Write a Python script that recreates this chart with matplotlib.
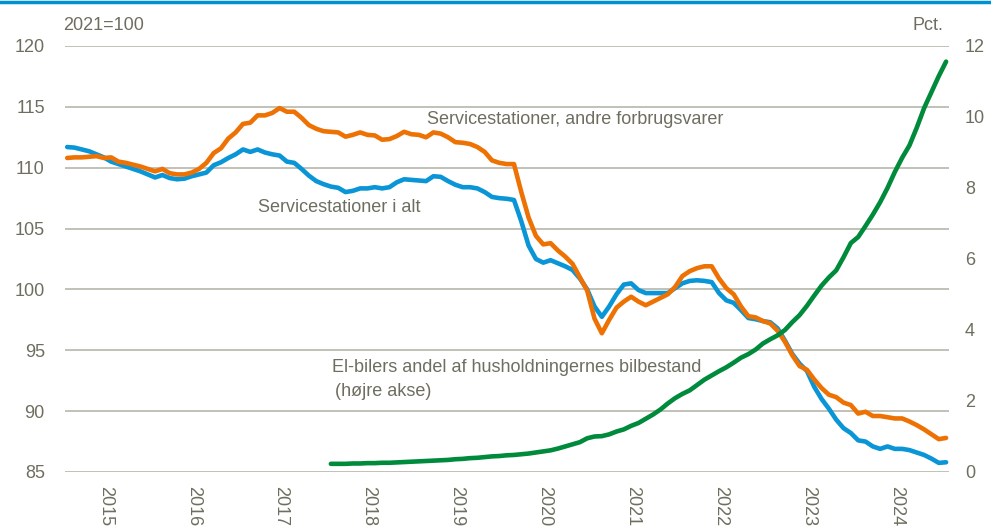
import numpy as np
import matplotlib
matplotlib.use("Agg")
import matplotlib.pyplot as plt
from matplotlib.lines import Line2D

plt.rcParams['font.family'] = ['Liberation Sans Narrow', 'Liberation Sans', 'DejaVu Sans']

# monthly index, 0 = Jan 2015
years = ['2015', '2016', '2017', '2018', '2019', '2020', '2021', '2022', '2023', '2024']

total = [111.7, 111.65, 111.5, 111.35, 111.1, 110.85, 110.5, 110.3, 110.1, 109.9, 109.7, 109.45,
         109.2, 109.4, 109.15, 109.05, 109.1, 109.3, 109.45, 109.6, 110.2, 110.45, 110.8, 111.1,
         111.5, 111.3, 111.5, 111.25, 111.1, 111.0, 110.5, 110.4, 109.9, 109.35, 108.9, 108.65,
         108.45, 108.35, 108.0, 108.1, 108.3, 108.3, 108.4, 108.3, 108.4, 108.8, 109.05, 109.0,
         108.95, 108.9, 109.3, 109.25, 108.9, 108.6, 108.4, 108.4, 108.3, 108.0, 107.6, 107.5,
         107.45, 107.35, 105.6, 103.6, 102.5, 102.2, 102.4, 102.15, 101.9, 101.6, 100.9, 100.0,
         98.6, 97.75, 98.6, 99.6, 100.4, 100.5, 99.95, 99.7, 99.7, 99.7, 99.7, 100.1,
         100.5, 100.7, 100.75, 100.7, 100.6, 99.7, 99.1, 98.9, 98.3, 97.65, 97.55, 97.4,
         97.3, 96.8, 95.8, 94.7, 93.9, 93.3, 92.0, 91.0, 90.2, 89.3, 88.6, 88.2,
         87.6, 87.5, 87.1, 86.9, 87.1, 86.9, 86.9, 86.8, 86.6, 86.4, 86.1, 85.75,
         85.8]

other = [110.8, 110.85, 110.85, 110.9, 110.95, 110.8, 110.85, 110.5, 110.4, 110.25, 110.1, 109.9,
         109.7, 109.9, 109.55, 109.45, 109.45, 109.6, 109.9, 110.4, 111.2, 111.6, 112.4, 112.9,
         113.6, 113.7, 114.3, 114.3, 114.5, 114.9, 114.6, 114.6, 114.1, 113.5, 113.2, 113.0,
         112.95, 112.9, 112.55, 112.7, 112.9, 112.7, 112.65, 112.3, 112.35, 112.6, 112.95, 112.75,
         112.7, 112.5, 112.9, 112.8, 112.5, 112.1, 112.05, 111.95, 111.7, 111.3, 110.6, 110.4,
         110.3, 110.3, 108.0, 105.9, 104.4, 103.7, 103.8, 103.2, 102.7, 102.1, 101.0, 99.9,
         97.6, 96.4, 97.5, 98.5, 99.0, 99.4, 99.0, 98.7, 99.0, 99.3, 99.6, 100.2,
         101.1, 101.5, 101.75, 101.9, 101.9, 100.9, 100.1, 99.6, 98.6, 97.8, 97.7, 97.4,
         97.2, 96.6, 95.7, 94.6, 93.7, 93.4, 92.6, 91.9, 91.35, 91.15, 90.7, 90.5,
         89.8, 89.95, 89.6, 89.6, 89.5, 89.4, 89.4, 89.15, 88.85, 88.5, 88.1, 87.7,
         87.8]

# el-car share, from Jan 2018 (month 36)
ev_share = [0.23, 0.23, 0.23, 0.24, 0.24, 0.25, 0.25, 0.26, 0.26, 0.27, 0.28, 0.29,
            0.3, 0.31, 0.32, 0.33, 0.34, 0.36, 0.37, 0.39, 0.4, 0.42, 0.44, 0.45,
            0.47, 0.48, 0.5, 0.52, 0.55, 0.58, 0.61, 0.66, 0.72, 0.78, 0.84, 0.95,
            1.0, 1.01, 1.06, 1.14, 1.2, 1.3, 1.38, 1.5, 1.62, 1.76, 1.93, 2.08,
            2.2, 2.3, 2.45, 2.6, 2.72, 2.84, 2.95, 3.08, 3.22, 3.32, 3.45, 3.62,
            3.74, 3.85, 4.0, 4.22, 4.42, 4.68, 4.97, 5.25, 5.48, 5.68, 6.05, 6.45,
            6.62, 6.93, 7.25, 7.6, 8.0, 8.45, 8.85, 9.2, 9.7, 10.25, 10.7, 11.15,
            11.56]

m_main = np.arange(len(total))
m_ev = np.arange(36, 36 + len(ev_share))

BLUE = '#0A96D6'
ORANGE = '#EE7203'
GREEN = '#008A3B'
TXT = '#6E6E60'
GRID = '#B8B6AA'
FS = 13

fig = plt.figure(figsize=(9.91, 5.29), dpi=100)
ax = fig.add_axes([65/991, 1-472/529, (949-65)/991, (472-46)/529])
ax2 = ax.twinx()

ax.plot(m_main, total, color=BLUE, lw=3.3, solid_capstyle='round', zorder=3)
ax.plot(m_main, other, color=ORANGE, lw=3.3, solid_capstyle='round', zorder=4)
ax2.plot(m_ev, ev_share, color=GREEN, lw=3.3, solid_capstyle='round', zorder=5)

ax.set_xlim(-0.3, 120.4)
ax.set_ylim(85, 120)
ax2.set_ylim(0, 12)
ax.set_yticks(np.arange(85, 121, 5))
ax2.set_yticks(np.arange(0, 13, 2))
ax.grid(axis='y', color=GRID, lw=1.2)
ax.set_axisbelow(True)

ax.set_xticks([5.2 + 12*i for i in range(len(years))])
ax.set_xticklabels(years, rotation=-90, va='top', ha='center')

for a in (ax, ax2):
    for s in a.spines.values():
        s.set_visible(False)
    a.tick_params(length=0, colors=TXT, labelsize=FS)
ax.tick_params(axis='y', pad=14.5)
ax.tick_params(axis='x', pad=10)
ax2.tick_params(axis='y', pad=11.5)

fig.text(63/991, 1-25/529, '2021=100', color=TXT, fontsize=FS, ha='left', va='center')
fig.text(943/991, 1-25/529, 'Pct.', color=TXT, fontsize=FS, ha='right', va='center')
fig.text(427/991, 1-120/529, 'Servicestationer, andre forbrugsvarer', color=TXT, fontsize=FS,
         ha='left', va='center')
fig.text(258/991, 1-208/529, 'Servicestationer i alt', color=TXT, fontsize=FS,
         ha='left', va='center')
fig.text(332/991, 1-367/529, 'El-bilers andel af husholdningernes bilbestand', color=TXT,
         fontsize=FS, ha='left', va='center')
fig.text(335/991, 1-392/529, '(højre akse)', color=TXT, fontsize=FS, ha='left', va='center')

# blue rule along top edge
fig.add_artist(Line2D([0, 1], [1-1.5/529, 1-1.5/529], transform=fig.transFigure,
                      color='#0090D4', lw=2.5))

fig.savefig('out.png', dpi=100)
